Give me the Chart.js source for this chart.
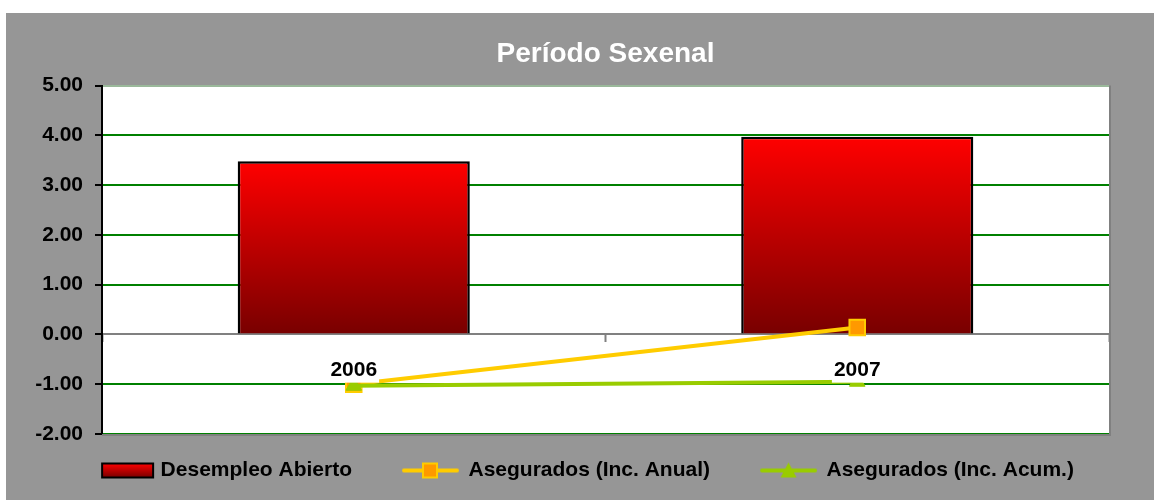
<!DOCTYPE html>
<html>
<head>
<meta charset="utf-8">
<script src="https://cdn.jsdelivr.net/npm/chart.js@4"></script>
<style>
  body { margin: 0; background: #ffffff; }
  #wrap { position: absolute; left: 6px; top: 13px; width: 1148px; height: 487px; background: #969696; }
</style>
</head>
<body>
<div id="wrap"><canvas id="chart"></canvas></div>
<script>
const years = ['2006', '2007'];
const desempleoAbierto = [3.48, 3.97];
const aseguradosAnual = [-1.00, 0.14];
const aseguradosAcum = [-1.03, -0.95];
const yMin = -2;
const yMax = 5;

const FONT = "'Liberation Sans', Arial, sans-serif";

// small icons for the legend (line + marker like the original)
function makeIcon(kind) {
  const c = document.createElement('canvas');
  c.width = 90; c.height = 20;
  const g = c.getContext('2d');
  if (kind === 'bar') {
    const grad = g.createLinearGradient(0, 3, 0, 17);
    grad.addColorStop(0, '#ff0000');
    grad.addColorStop(1, '#780000');
    g.fillStyle = grad;
    g.fillRect(37, 3, 51, 14);
    g.strokeStyle = '#000000';
    g.lineWidth = 2;
    g.strokeRect(37, 3, 51, 14);
  } else if (kind === 'anual') {
    g.strokeStyle = '#ffcc00';
    g.lineWidth = 4;
    g.lineCap = 'round';
    g.beginPath(); g.moveTo(31, 10); g.lineTo(84, 10); g.stroke();
    g.fillStyle = '#ff9900';
    g.fillRect(50, 3, 14, 14);
    g.lineWidth = 2;
    g.strokeRect(50, 3, 14, 14);
  } else {
    g.strokeStyle = '#99cc00';
    g.lineWidth = 4;
    g.lineCap = 'round';
    g.beginPath(); g.moveTo(31, 10); g.lineTo(84, 10); g.stroke();
    g.fillStyle = '#99cc00';
    g.beginPath(); g.moveTo(57.5, 2); g.lineTo(65.5, 17); g.lineTo(49.5, 17); g.closePath(); g.fill();
  }
  return c;
}
const icons = [makeIcon('bar'), makeIcon('anual'), makeIcon('acum')];

const plotBg = {
  id: 'plotBg',
  beforeDraw(chart) {
    const {ctx, chartArea: a} = chart;
    ctx.save();
    ctx.fillStyle = '#ffffff';
    ctx.fillRect(a.left, a.top, a.right - a.left, a.bottom - a.top);
    ctx.restore();
  },
  afterDraw(chart) {
    const {ctx, chartArea: a} = chart;
    ctx.save();
    ctx.strokeStyle = '#808080';
    ctx.lineWidth = 2;
    ctx.beginPath();
    ctx.moveTo(a.left, a.bottom + 1);
    ctx.lineTo(a.right + 1, a.bottom + 1);
    ctx.lineTo(a.right + 1, a.top);
    ctx.stroke();
    ctx.restore();
  }
};

function barGradient(context) {
  const chart = context.chart;
  const y = chart.scales.y;
  if (!y || context.type !== 'data') return '#cc0000';
  const top = y.getPixelForValue(context.raw);
  const base = y.getPixelForValue(0);
  const grad = chart.ctx.createLinearGradient(0, top, 0, base);
  grad.addColorStop(0, '#ff0000');
  grad.addColorStop(1, '#780000');
  return grad;
}

new Chart(document.getElementById('chart'), {
  data: {
    labels: years,
    datasets: [
      {
        type: 'bar',
        label: 'Desempleo Abierto',
        data: desempleoAbierto,
        backgroundColor: barGradient,
        borderColor: '#000000',
        borderWidth: 2.5,
        barPercentage: 0.461,
        categoryPercentage: 1,
        order: 2
      },
      {
        type: 'line',
        label: 'Asegurados (Inc. Anual)',
        data: aseguradosAnual,
        borderColor: '#ffcc00',
        borderWidth: 4,
        pointStyle: 'rect',
        pointRadius: 11,
        pointBackgroundColor: '#ff9900',
        pointBorderColor: '#ffcc00',
        pointBorderWidth: 2,
        tension: 0,
        fill: false,
        order: 1
      },
      {
        type: 'line',
        label: 'Asegurados (Inc. Acum.)',
        data: aseguradosAcum,
        borderColor: '#99cc00',
        borderWidth: 4,
        pointStyle: 'triangle',
        pointRadius: 9,
        pointBackgroundColor: '#99cc00',
        pointBorderColor: '#99cc00',
        pointBorderWidth: 1,
        tension: 0,
        fill: false,
        order: 0
      }
    ]
  },
  options: {
    responsive: true,
    maintainAspectRatio: false,
    animation: false,
    events: [],
    layout: { padding: { left: 29, right: 45, top: 10, bottom: 9 } },
    scales: {
      x: {
        type: 'category',
        position: { y: 0 },
        offset: true,
        border: { display: true, color: '#808080', width: 2 },
        grid: { display: true, drawOnChartArea: false, drawTicks: true, tickLength: 7, tickColor: '#808080', tickWidth: 2, offset: true },
        ticks: {
          z: 1,
          color: '#000000',
          font: { family: FONT, size: 21, weight: 'bold' },
          padding: 16,
          showLabelBackdrop: true,
          backdropColor: '#ffffff',
          backdropPadding: { left: 2, right: 2, top: 0, bottom: 0 }
        }
      },
      y: {
        min: yMin,
        max: yMax,
        afterFit: (scale) => { scale.width = 67; },
        border: { display: true, color: '#000000', width: 2 },
        grid: {
          color: (c) => {
            if (!c.tick) return '#008000';
            if (c.tick.value === 0) return 'rgba(0,0,0,0)';
            if (c.tick.value === yMax) return '#9ab89a';
            return '#008000';
          },
          lineWidth: 2,
          drawTicks: true,
          tickLength: 7,
          tickColor: '#000000',
          tickWidth: 2
        },
        ticks: {
          stepSize: 1,
          color: '#000000',
          padding: 12,
          font: { family: FONT, size: 21, weight: 'bold' },
          callback: (v) => Number(v).toFixed(2)
        }
      }
    },
    plugins: {
      title: {
        display: true,
        text: 'Período Sexenal',
        color: '#ffffff',
        fullSize: false,
        font: { family: FONT, size: 28, weight: 'bold' },
        padding: { top: 14, bottom: 15 }
      },
      legend: {
        position: 'bottom',
        labels: {
          usePointStyle: true,
          pointStyleWidth: 80,
          padding: 26,
          color: '#000000',
          font: { family: FONT, size: 21, weight: 'bold' },
          generateLabels: (chart) => chart.data.datasets.map((ds, i) => ({
            text: ds.label,
            pointStyle: icons[i],
            fillStyle: 'rgba(0,0,0,0)',
            strokeStyle: 'rgba(0,0,0,0)',
            lineWidth: 0,
            fontColor: '#000000',
            hidden: false,
            datasetIndex: i
          }))
        }
      },
      tooltip: { enabled: false }
    }
  },
  plugins: [plotBg]
});
</script>
</body>
</html>
